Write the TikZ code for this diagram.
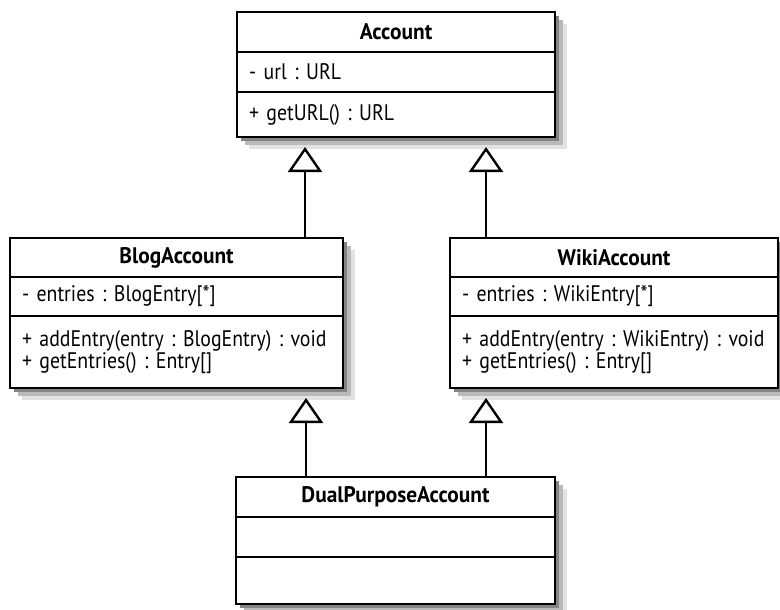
\documentclass[tikz,border=0pt]{standalone}
\usepackage{fontspec}
\setmainfont{PT Sans}[FakeStretch=0.88]
\newfontfamily\headfont{PT Sans Bold}[FakeStretch=0.95]
\usetikzlibrary{positioning, arrows.meta}

\definecolor{shadowlight}{RGB}{226,226,226}
\definecolor{shadowmid}{RGB}{186,186,186}
\definecolor{shadowdark}{RGB}{132,132,132}

\tikzset{
  classhead/.style={draw, line width=2.4pt, outer sep=0pt, anchor=north west, inner sep=0pt,
    fill=white, font=\fontsize{22.5}{23}\headfont},
  classpart/.style={draw, line width=2.4pt, outer sep=0pt, inner xsep=12pt, inner ysep=0pt,
    fill=white, align=left, font=\fontsize{22.5}{22.5}\selectfont\frenchspacing},
  inherit/.style={line width=2.4pt, -{Triangle[open, length=25pt, width=34pt]}, shorten >=10pt}
}
% soft shadow behind a class box: left, top, right, bottom
\newcommand{\classshadow}[4]{%
  \path[fill=shadowlight] (#1+12,#2+12) rectangle (#3+12,#4+12);
  \path[fill=shadowmid] (#1+8,#2+8) rectangle (#3+8,#4+8);
  \path[fill=shadowdark] (#1+4,#2+4) rectangle (#3+4,#4+4);
}

\begin{document}
\begin{tikzpicture}[x=1pt, y=-1pt]
  \useasboundingbox (0,0) rectangle (780,610);

  % shadows
  \classshadow{237}{12}{555}{137}
  \classshadow{10}{238}{343}{388}
  \classshadow{450}{238}{778}{388}
  \classshadow{236}{477}{555}{604}

  % Account
  \node[classhead, minimum width=318pt, minimum height=40pt] (acctHead) at (237,12) {Account};
  \node[classpart, text width=294pt, minimum height=40pt, below=0pt of acctHead] (acctAttr) {- url : URL};
  \node[classpart, text width=294pt, minimum height=45pt, below=0pt of acctAttr] (acctOps) {+ getURL() : URL};

  % BlogAccount
  \node[classhead, minimum width=333pt, minimum height=39pt] (blogHead) at (10,238) {BlogAccount};
  \node[classpart, text width=309pt, minimum height=39pt, below=0pt of blogHead] (blogAttr) {- entries : BlogEntry[*]};
  \node[classpart, text width=309pt, minimum height=72pt, below=0pt of blogAttr] (blogOps)
    {+ addEntry(entry : BlogEntry) : void\\+ getEntries() : Entry[]};

  % WikiAccount
  \node[classhead, minimum width=328pt, minimum height=39pt] (wikiHead) at (450,238) {WikiAccount};
  \node[classpart, text width=304pt, minimum height=39pt, below=0pt of wikiHead] (wikiAttr) {- entries : WikiEntry[*]};
  \node[classpart, text width=304pt, minimum height=72pt, below=0pt of wikiAttr] (wikiOps)
    {+ addEntry(entry : WikiEntry) : void\\+ getEntries() : Entry[]};

  % DualPurposeAccount
  \node[classhead, minimum width=319pt, minimum height=40pt] (dualHead) at (236,477) {DualPurposeAccount};
  \node[classpart, text width=295pt, minimum height=40pt, below=0pt of dualHead] (dualAttr) {};
  \node[classpart, text width=295pt, minimum height=47pt, below=0pt of dualAttr] (dualOps) {};

  % generalisations
  \draw[inherit] ([xshift=-38pt]blogHead.north east) -- ([xshift=-38pt]blogHead.north east |- acctOps.south);
  \draw[inherit] ([xshift=36pt]wikiHead.north west) -- ([xshift=36pt]wikiHead.north west |- acctOps.south);
  \draw[inherit] ([xshift=70pt]dualHead.north west) -- ([xshift=70pt]dualHead.north west |- blogOps.south);
  \draw[inherit] ([xshift=-69pt]dualHead.north east) -- ([xshift=-69pt]dualHead.north east |- wikiOps.south);
\end{tikzpicture}
\end{document}
